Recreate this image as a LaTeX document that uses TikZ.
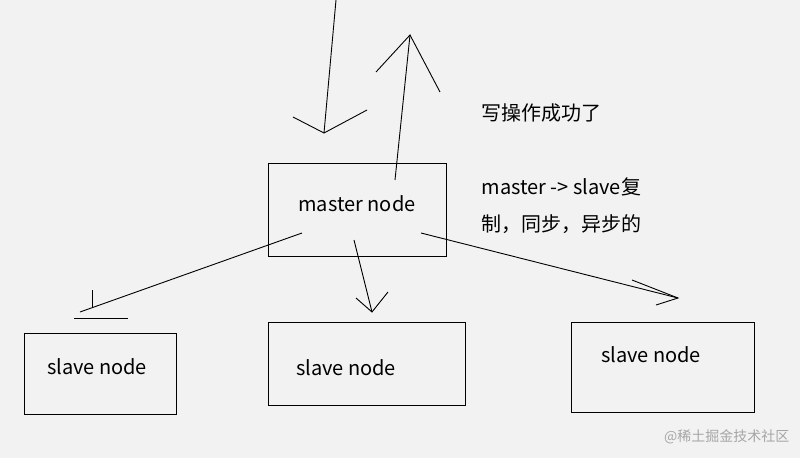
\documentclass[tikz,border=0pt]{standalone}
\usepackage{fontspec}
\setmainfont{Noto Sans CJK SC}
\begin{document}
\begin{tikzpicture}[x=1pt,y=-1pt,
  box/.style={draw,line width=1pt,inner sep=0pt,anchor=north west},
  lbl/.style={font=\fontsize{20}{23}\selectfont},
  ln/.style={line width=0.9pt}]
\fill[gray!10] (0,0) rectangle (800,458);
\useasboundingbox (0,0) rectangle (800,458);
\node[box,minimum width=178pt,minimum height=93pt] (m) at (268,163) {};
\node[lbl] at (357,204) {master node};
\node[box,minimum width=152pt,minimum height=81pt] (s1) at (24,333) {};
\node[lbl] at (97,367) {slave node};
\node[box,minimum width=197pt,minimum height=83pt] (s2) at (268,322) {};
\node[lbl] at (346,368) {slave node};
\node[box,minimum width=183pt,minimum height=90pt] (s3) at (571,322) {};
\node[lbl] at (651,355) {slave node};
\node[lbl,anchor=west] (t1) at (478,113) {写操作成功了};
\node[lbl,anchor=west] (t2) at (478,187) {master -> slave复};
\node[lbl,anchor=west] (t3) at (478,224) {制，同步，异步的};
\node[anchor=east,text=gray!70,font=\fontsize{14}{16}\selectfont] (wm) at (793,437) {@稀土掘金技术社区};
% incoming
\coordinate (a0) at (336,0); \coordinate (a1) at (324,133);
\draw[ln] (a0) -- (a1);
\draw[ln] (293,117) -- (a1) -- (367,110);
% outgoing
\coordinate (b0) at (395,180); \coordinate (b1) at (410,35);
\draw[ln] (b0) -- (b1);
\draw[ln] (376,72) -- (b1) -- (440,92);
% to slaves
\coordinate (c0) at (302,233); \coordinate (c1) at (80,312);
\draw[ln] (c0) -- (c1);
\draw[ln] (92,290) -- (92,308);
\draw[ln] (74,318) -- (128,318);
\coordinate (d0) at (354,240); \coordinate (d1) at (372,312);
\draw[ln] (d0) -- (d1);
\draw[ln] (356,298) -- (d1) -- (388,292);
\coordinate (e0) at (421,233); \coordinate (e1) at (678,298);
\draw[ln] (e0) -- (e1);
\draw[ln] (632,280) -- (e1) -- (656,305);
\end{tikzpicture}
\end{document}
